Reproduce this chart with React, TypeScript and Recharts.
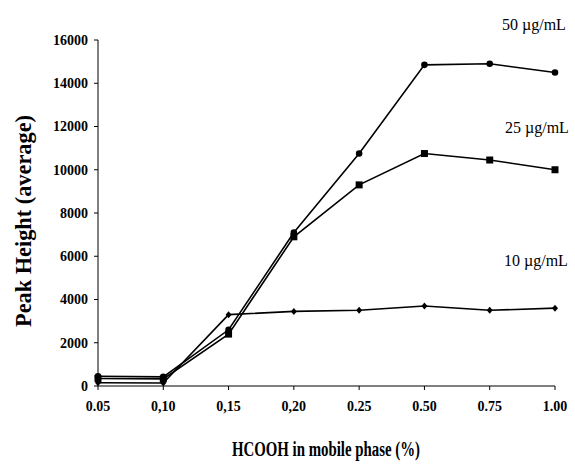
import React from 'react'
import { LineChart, Line, XAxis, YAxis, Label } from 'recharts'

const FONT = '"Liberation Serif", "DejaVu Serif", serif'

// x categories exactly as printed (mixed comma/point decimals in the original)
const categories = ['0.05', '0,10', '0,15', '0,20', '0.25', '0.50', '0.75', '1.00']
const conc50 = [450, 420, 2600, 7100, 10750, 14850, 14900, 14500]
const conc25 = [350, 330, 2400, 6900, 9300, 10750, 10450, 10000]
const conc10 = [150, 140, 3300, 3450, 3500, 3700, 3500, 3600]
const yTicks = [0, 2000, 4000, 6000, 8000, 10000, 12000, 14000, 16000]

const data = categories.map((c, i) => ({
  cat: c,
  c50: conc50[i],
  c25: conc25[i],
  c10: conc10[i],
}))

const SquareDot = (props: any) => {
  const { cx, cy } = props
  if (cx == null || cy == null) return null
  return <rect x={cx - 3.5} y={cy - 3.5} width={7} height={7} fill="#000" />
}

const DiamondDot = (props: any) => {
  const { cx, cy } = props
  if (cx == null || cy == null) return null
  return <polygon points={`${cx},${cy - 3.5} ${cx + 3},${cy} ${cx},${cy + 3.5} ${cx - 3},${cy}`} fill="#000" />
}

const note = (top: number, left: number, text: string) => (
  <div
    style={{
      position: 'absolute', top, left, fontFamily: FONT, fontSize: 16,
      color: '#000', whiteSpace: 'nowrap', lineHeight: '18px',
    }}
  >
    {text}
  </div>
)

export default function App() {
  const tick = { fill: '#000', fontSize: 14, fontWeight: 700, fontFamily: FONT }
  return (
    <div style={{ position: 'absolute', left: 0, top: 0, width: 575, height: 465, background: '#fff' }}>
      <LineChart
        width={575}
        height={465}
        data={data}
        margin={{ top: 40, right: 20, bottom: 19, left: 0 }}
      >
        <XAxis
          dataKey="cat"
          stroke="#000"
          tick={tick}
          tickSize={4}
          tickMargin={11}
          height={60}
          interval={0}
        >
          <Label
            content={() => (
              <text
                x={326}
                y={456}
                textAnchor="middle"
                fontFamily={FONT}
                fontWeight={700}
                fontSize={20}
                textLength={188}
                lengthAdjust="spacingAndGlyphs"
                fill="#000"
              >
                HCOOH in mobile phase (%)
              </text>
            )}
          />
        </XAxis>
        <YAxis
          domain={[0, 16000]}
          ticks={yTicks}
          stroke="#000"
          tick={tick}
          tickSize={4}
          tickMargin={6}
          width={98}
          interval={0}
        >
          <Label
            content={() => (
              <text
                x={31}
                y={221}
                transform="rotate(-90 31 221)"
                textAnchor="middle"
                fontFamily={FONT}
                fontWeight={700}
                fontSize={23}
                textLength={212}
                lengthAdjust="spacingAndGlyphs"
                fill="#000"
              >
                Peak Height (average)
              </text>
            )}
          />
        </YAxis>
        <Line
          type="linear"
          dataKey="c50"
          stroke="#000"
          strokeWidth={1.6}
          dot={{ r: 2.5, fill: '#000', stroke: '#000' }}
          isAnimationActive={false}
        />
        <Line
          type="linear"
          dataKey="c25"
          stroke="#000"
          strokeWidth={1.6}
          dot={<SquareDot />}
          isAnimationActive={false}
        />
        <Line
          type="linear"
          dataKey="c10"
          stroke="#000"
          strokeWidth={1.6}
          dot={<DiamondDot />}
          isAnimationActive={false}
        />
      </LineChart>
      {note(16, 502, '50 µg/mL')}
      {note(119, 505, '25 µg/mL')}
      {note(252, 504, '10 µg/mL')}
    </div>
  )
}
